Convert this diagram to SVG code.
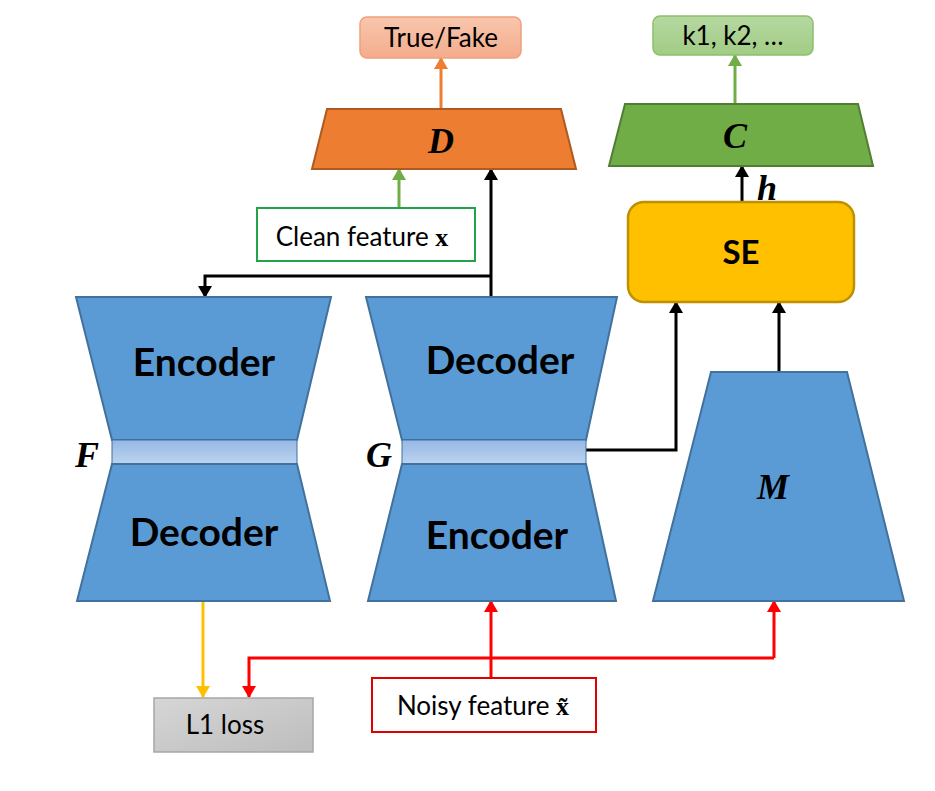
<svg xmlns="http://www.w3.org/2000/svg" width="935" height="791" viewBox="0 0 935 791">
<style>
.blue{fill:#5b9bd5;stroke:#41719c;stroke-width:2}
.neck{fill:url(#neckGrad);stroke:#41719c;stroke-width:1}
.lbl{font-family:Lato,"Liberation Sans",sans-serif;font-size:26px;fill:#000;text-anchor:middle}
.big{font-family:Lato,"Liberation Sans",sans-serif;font-size:39px;font-weight:bold;fill:#000;text-anchor:middle}
.math{font-family:"Liberation Serif","DejaVu Serif",serif;font-size:36px;font-weight:bold;font-style:italic;fill:#000;text-anchor:middle}
.mx{font-family:"Liberation Serif","DejaVu Serif",serif;font-weight:bold}
.c{fill:none;stroke-width:3}
</style>
<defs>
<linearGradient id="neckGrad" x1="0" y1="0" x2="0" y2="1"><stop offset="0" stop-color="#94b8e4"/><stop offset="1" stop-color="#bcd3ef"/></linearGradient>
<linearGradient id="tfGrad" x1="0" y1="0" x2="0" y2="1"><stop offset="0" stop-color="#f8c6ad"/><stop offset="1" stop-color="#f4ac8c"/></linearGradient>
<linearGradient id="kGrad" x1="0" y1="0" x2="0" y2="1"><stop offset="0" stop-color="#b6d8a0"/><stop offset="1" stop-color="#a2cc86"/></linearGradient>
<linearGradient id="l1Grad" x1="0" y1="0" x2="1" y2="1"><stop offset="0" stop-color="#d6d6d6"/><stop offset="1" stop-color="#bdbdbd"/></linearGradient>
<marker id="aK" markerUnits="userSpaceOnUse" markerWidth="14" markerHeight="14" viewBox="0 0 12 14" refX="11" refY="7" orient="auto"><path d="M0,0 L12,7 L0,14 z" fill="#000"/></marker>
<marker id="aR" markerUnits="userSpaceOnUse" markerWidth="14" markerHeight="14" viewBox="0 0 12 14" refX="11" refY="7" orient="auto"><path d="M0,0 L12,7 L0,14 z" fill="#ff0000"/></marker>
<marker id="aG" markerUnits="userSpaceOnUse" markerWidth="14" markerHeight="14" viewBox="0 0 12 14" refX="11" refY="7" orient="auto"><path d="M0,0 L12,7 L0,14 z" fill="#70ad47"/></marker>
<marker id="aO" markerUnits="userSpaceOnUse" markerWidth="14" markerHeight="14" viewBox="0 0 12 14" refX="11" refY="7" orient="auto"><path d="M0,0 L12,7 L0,14 z" fill="#ed7d31"/></marker>
<marker id="aY" markerUnits="userSpaceOnUse" markerWidth="14" markerHeight="14" viewBox="0 0 12 14" refX="11" refY="7" orient="auto"><path d="M0,0 L12,7 L0,14 z" fill="#ffc000"/></marker>
</defs>
<rect width="935" height="791" fill="#fff"/>

<g id="connectors">
<path class="c" stroke="#ed7d31" d="M441,109 V58" marker-end="url(#aO)"/>
<path class="c" stroke="#70ad47" d="M735,104 V55" marker-end="url(#aG)"/>
<path class="c" stroke="#000" d="M742,202 V166" marker-end="url(#aK)"/>
<path class="c" stroke="#70ad47" d="M399,208 V169" marker-end="url(#aG)"/>
<path class="c" stroke="#000" d="M491,297 V169" marker-end="url(#aK)"/>
<path class="c" stroke="#000" d="M491,276 H205 V297" marker-end="url(#aK)"/>
<path class="c" stroke="#000" d="M586,450 H676 V302" marker-end="url(#aK)"/>
<path class="c" stroke="#000" d="M779,372 V302" marker-end="url(#aK)"/>
<path class="c" stroke="#ffc000" d="M203,601 V697" marker-end="url(#aY)"/>
<path class="c" stroke="#ff0000" d="M491,678 V601" marker-end="url(#aR)"/>
<path class="c" stroke="#ff0000" d="M774,658 H249 V697" marker-end="url(#aR)"/>
<path class="c" stroke="#ff0000" d="M774,658 V601" marker-end="url(#aR)"/>
</g>

<g id="truefake">
<rect x="360" y="17" width="161" height="41" rx="7" fill="url(#tfGrad)" stroke="#f0a07c" stroke-width="1.5"/>
<text class="lbl" x="441" y="47">True/Fake</text>
</g>

<g id="D">
<polygon points="327,109 561,109 576,169 312,169" fill="#ed7d31" stroke="#ae5a21" stroke-width="2"/>
<text class="math" x="441" y="153">D</text>
</g>

<g id="k">
<rect x="653" y="16" width="160" height="39" rx="7" fill="url(#kGrad)" stroke="#8cbf6c" stroke-width="1.5"/>
<text class="lbl" x="733" y="45">k1, k2, …</text>
</g>

<g id="C">
<polygon points="625,104 858,104 873,166 609,166" fill="#70ad47" stroke="#507e32" stroke-width="2"/>
<text class="math" x="735" y="148">C</text>
</g>

<g id="h">
<text class="math" x="767" y="200">h</text>
</g>

<g id="SE">
<rect x="628" y="202" width="226" height="100" rx="16" fill="#ffc000" stroke="#bf9000" stroke-width="2.5"/>
<text class="big" x="741" y="264" style="font-size:33px">SE</text>
</g>

<g id="clean">
<rect x="257" y="208" width="218" height="53" fill="#fff" stroke="#22a34a" stroke-width="2"/>
<text class="lbl" x="362" y="246">Clean feature <tspan class="mx">x</tspan></text>
</g>

<g id="F">
<polygon class="blue" points="76,297 331,297 297,440 112,440"/>
<rect class="neck" x="112" y="440" width="185" height="24"/>
<polygon class="blue" points="112,464 297,464 330,601 77,601"/>
<text class="big" x="204" y="376">Encoder</text>
<text class="big" x="204" y="546">Decoder</text>
<text class="math" x="87" y="467">F</text>
</g>

<g id="G">
<polygon class="blue" points="366,297 617,297 586,440 402,440"/>
<rect class="neck" x="402" y="440" width="184" height="24"/>
<polygon class="blue" points="402,464 586,464 616,601 368,601"/>
<text class="big" x="500" y="374">Decoder</text>
<text class="big" x="497" y="549">Encoder</text>
<text class="math" x="379" y="467">G</text>
</g>

<g id="M">
<polygon class="blue" points="711,372 847,372 904,601 653,601"/>
<text class="math" x="773" y="499">M</text>
</g>

<g id="L1">
<rect x="154" y="698" width="159" height="54" fill="url(#l1Grad)" stroke="#a6a6a6" stroke-width="1.5"/>
<text class="lbl" x="225" y="734">L1 loss</text>
</g>

<g id="noisy">
<rect x="372" y="678" width="224" height="54" fill="#fff" stroke="#e00000" stroke-width="2"/>
<text class="lbl" x="483" y="715">Noisy feature <tspan class="mx">x̃</tspan></text>
</g>
</svg>
